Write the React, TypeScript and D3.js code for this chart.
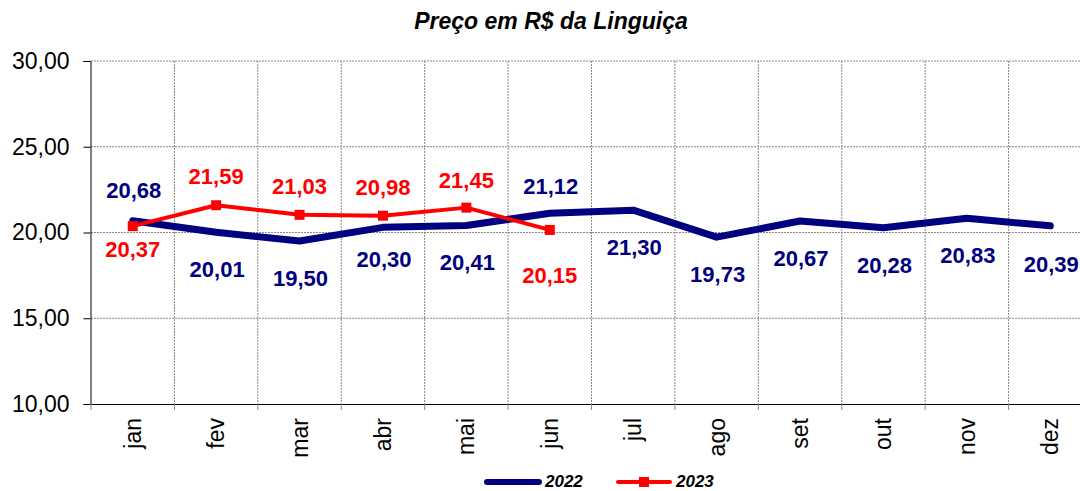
import React, { useRef, useEffect } from 'react';
import * as d3 from 'd3';

const months = ['jan', 'fev', 'mar', 'abr', 'mai', 'jun', 'jul', 'ago', 'set', 'out', 'nov', 'dez'];
const values2022 = [20.68, 20.01, 19.5, 20.3, 20.41, 21.12, 21.3, 19.73, 20.67, 20.28, 20.83, 20.39];
const values2023 = [20.37, 21.59, 21.03, 20.98, 21.45, 20.15];
const yTicks = [10, 15, 20, 25, 30];

// label offsets (vertical, from the point) as placed in the original chart
const labelDy2022 = [-31, 37, 37, 32, 37, -27, 37, 37, 37, 37, 37, 38];
const labelDy2023 = [23, -29, -29, -29, -28, 45];

const fmt = (v: number) => v.toFixed(2).replace('.', ',');

const App = () => {
    const ref = useRef<SVGSVGElement>(null);
    const width = 1080;
    const height = 491;

    useEffect(() => {
        const svg = d3.select(ref.current);
        svg.selectAll('*').remove();

        const left = 91, right = 1092, top = 61, bottom = 404;
        const font = 'Liberation Sans, Arial, sans-serif';

        const x = d3.scaleBand().domain(months).range([left, right]);
        const cx = (m: string) => (x(m) as number) + x.bandwidth() / 2;
        const y = d3.scaleLinear().domain([10, 30]).range([bottom, top]);

        // title
        svg.append('text')
            .attr('x', 551).attr('y', 29)
            .attr('text-anchor', 'middle')
            .style('font-family', font).style('font-size', '23px')
            .style('font-weight', 'bold').style('font-style', 'italic')
            .text('Preço em R$ da Linguiça');

        // horizontal grid
        svg.append('g').selectAll('line')
            .data(yTicks.filter(t => t > 10))
            .enter().append('line')
            .attr('x1', left).attr('x2', width)
            .attr('y1', d => y(d)).attr('y2', d => y(d))
            .attr('stroke', '#888').attr('stroke-width', 1)
            .attr('stroke-dasharray', '2,1');

        // vertical grid
        svg.append('g').selectAll('line')
            .data(months.slice(1))
            .enter().append('line')
            .attr('x1', d => x(d) as number).attr('x2', d => x(d) as number)
            .attr('y1', top).attr('y2', bottom)
            .attr('stroke', '#888').attr('stroke-width', 1)
            .attr('stroke-dasharray', '2,1');

        // y axis
        const yAxis = svg.append('g')
            .attr('transform', `translate(${left - 0.5},0)`)
            .call(d3.axisLeft(y).tickValues(yTicks).tickSize(7).tickPadding(14).tickFormat(d => fmt(d as number)));
        yAxis.select('.domain').attr('stroke', '#000');
        yAxis.selectAll('text').style('font-family', font).style('font-size', '23px').attr('fill', '#000');

        // x axis
        const xAxis = svg.append('g')
            .attr('transform', `translate(0,${bottom + 0.5})`)
            .call(d3.axisBottom(x).tickSize(0).tickFormat(() => ''));
        xAxis.select('.domain').attr('d', `M${left},0H${width}`).attr('stroke', '#000');
        svg.append('g').selectAll('line')
            .data(months)
            .enter().append('line')
            .attr('x1', d => x(d) as number).attr('x2', d => x(d) as number)
            .attr('y1', bottom).attr('y2', bottom + 6)
            .attr('stroke', '#888');
        svg.append('g').selectAll('text')
            .data(months)
            .enter().append('text')
            .attr('transform', d => `translate(${cx(d) + 8},${bottom + 14}) rotate(-90)`)
            .attr('text-anchor', 'end')
            .style('font-family', font).style('font-size', '23px')
            .text(d => d);

        const line = d3.line<number>()
            .x((_, i) => cx(months[i]))
            .y(d => y(d));

        // 2022
        svg.append('path')
            .datum(values2022)
            .attr('d', line)
            .attr('fill', 'none').attr('stroke', '#000080')
            .attr('stroke-width', 7).attr('stroke-linejoin', 'round').attr('stroke-linecap', 'round');

        // 2023
        svg.append('path')
            .datum(values2023)
            .attr('d', line)
            .attr('fill', 'none').attr('stroke', '#ff0000')
            .attr('stroke-width', 4).attr('stroke-linejoin', 'round');
        svg.append('g').selectAll('rect')
            .data(values2023)
            .enter().append('rect')
            .attr('x', (_, i) => cx(months[i]) - 5).attr('y', d => y(d) - 5)
            .attr('width', 10).attr('height', 10)
            .attr('fill', '#ff0000');

        // data labels
        svg.append('g').selectAll('text')
            .data(values2022)
            .enter().append('text')
            .attr('x', (_, i) => cx(months[i]) + 1)
            .attr('y', (d, i) => y(d) + labelDy2022[i] + 8)
            .attr('text-anchor', 'middle')
            .style('font-family', font).style('font-size', '22px').style('font-weight', 'bold')
            .attr('fill', '#000080')
            .text(d => fmt(d));
        svg.append('g').selectAll('text')
            .data(values2023)
            .enter().append('text')
            .attr('x', (_, i) => cx(months[i]))
            .attr('y', (d, i) => y(d) + labelDy2023[i] + 8)
            .attr('text-anchor', 'middle')
            .style('font-family', font).style('font-size', '22px').style('font-weight', 'bold')
            .attr('fill', '#ff0000')
            .text(d => fmt(d));

        // legend
        const ly = 482;
        const legend = svg.append('g');
        legend.append('line')
            .attr('x1', 487).attr('x2', 539).attr('y1', ly).attr('y2', ly)
            .attr('stroke', '#000080').attr('stroke-width', 6).attr('stroke-linecap', 'round');
        legend.append('text')
            .attr('x', 545).attr('y', ly + 5)
            .style('font-family', font).style('font-size', '17px')
            .style('font-weight', 'bold').style('font-style', 'italic')
            .text('2022');
        legend.append('line')
            .attr('x1', 618).attr('x2', 670).attr('y1', ly).attr('y2', ly)
            .attr('stroke', '#ff0000').attr('stroke-width', 4).attr('stroke-linecap', 'round');
        legend.append('rect')
            .attr('x', 639).attr('y', ly - 5).attr('width', 10).attr('height', 10)
            .attr('fill', '#ff0000');
        legend.append('text')
            .attr('x', 676).attr('y', ly + 5)
            .style('font-family', font).style('font-size', '17px')
            .style('font-weight', 'bold').style('font-style', 'italic')
            .text('2023');
    }, []);

    return (
        <svg ref={ref} width={width} height={height}
            style={{ position: 'absolute', left: 0, top: 0, background: 'white' }}>
        </svg>
    );
};

export default App;
